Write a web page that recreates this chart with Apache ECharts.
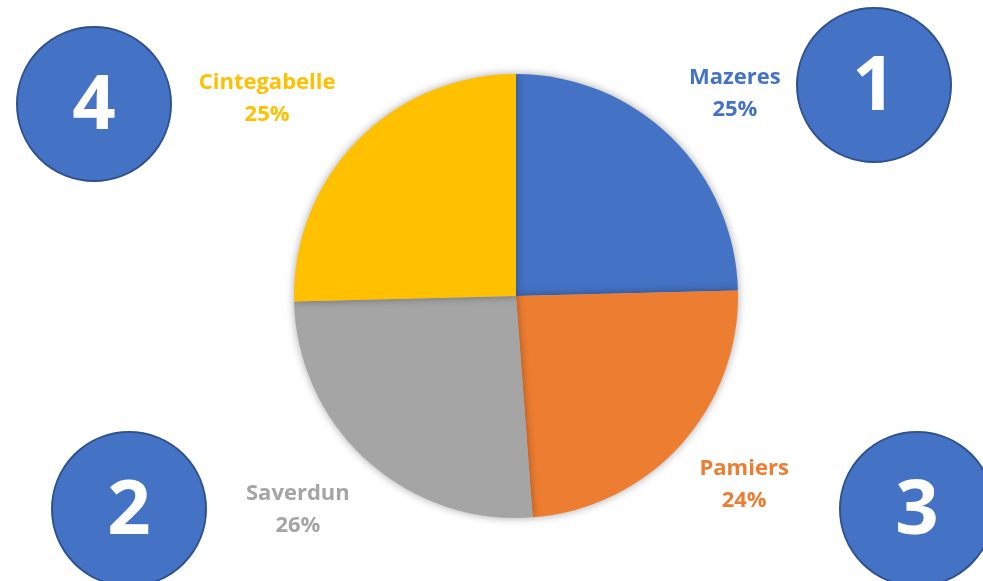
<!DOCTYPE html>
<html>
<head>
<meta charset="utf-8">
<script src="https://cdn.jsdelivr.net/npm/echarts@6/dist/echarts.min.js"></script>
<style>
  html, body { margin: 0; padding: 0; background: #fff; }
  #main { width: 983px; height: 581px; }
</style>
</head>
<body>
<div id="main"></div>
<script>
// data (clockwise from 12 o'clock)
const towns = ["Mazeres", "Pamiers", "Saverdun", "Cintegabelle"];
const shares = [24.6, 24.2, 25.8, 25.4];
const sliceColors = ["#4472C4", "#ED7D31", "#A5A5A5", "#FFC000"];
const badgeLabels = ["1", "2", "3", "4"];

const font = "'Open Sans', 'DejaVu Sans', sans-serif";
const pieCenter = [516, 296];

// blue numbered circles around the pie
function badge(label, cx, cy) {
  return {
    type: "group",
    children: [
      {
        type: "circle",
        shape: { cx: cx, cy: cy, r: 77 },
        style: { fill: "#4472C4", stroke: "#2F528F", lineWidth: 2 }
      },
      {
        type: "text",
        x: cx,
        y: cy + 3,
        style: {
          text: label,
          fill: "#fff",
          font: "bold 76px " + font,
          align: "center",
          verticalAlign: "middle"
        }
      }
    ]
  };
}

let myChart = echarts.init(document.getElementById("main"));
myChart.setOption({
  backgroundColor: "#fff",
  animation: false,
  graphic: [
    badge(badgeLabels[0], 874, 85),
    badge(badgeLabels[1], 129, 509),
    badge(badgeLabels[2], 917, 509),
    badge(badgeLabels[3], 94, 104)
  ],
  series: [
    {
      type: "pie",
      center: pieCenter,
      radius: 222,
      startAngle: 90,
      clockwise: true,
      avoidLabelOverlap: false,
      percentPrecision: 0,
      itemStyle: {
        shadowBlur: 8,
        shadowColor: "rgba(0,0,0,0.35)"
      },
      label: {
        show: true,
        position: "outside",
        formatter: "{b}\n{d}%",
        fontFamily: font,
        fontWeight: "bold",
        fontSize: 22,
        lineHeight: 32,
        color: "inherit"
      },
      labelLine: { show: false, length: 60, length2: 20 },
      labelLayout: function (p) {
        // excel centres its labels, nudge them per quadrant
        const left = p.align === "right";
        const top = p.labelRect.y + p.labelRect.height / 2 < pieCenter[1];
        let dx = 0, dy = 0;
        if (left && top) dx = -22;
        else if (left) { dx = -4; dy = 5; }
        else if (top) dx = -3;
        else dx = -6;
        return { align: "center", verticalAlign: "middle", dx: dx, dy: dy };
      },
      emphasis: { disabled: true },
      data: towns.map((name, i) => ({
        name: name,
        value: shares[i],
        itemStyle: { color: sliceColors[i] },
        label: { color: sliceColors[i] }
      }))
    }
  ]
});
</script>
</body>
</html>
